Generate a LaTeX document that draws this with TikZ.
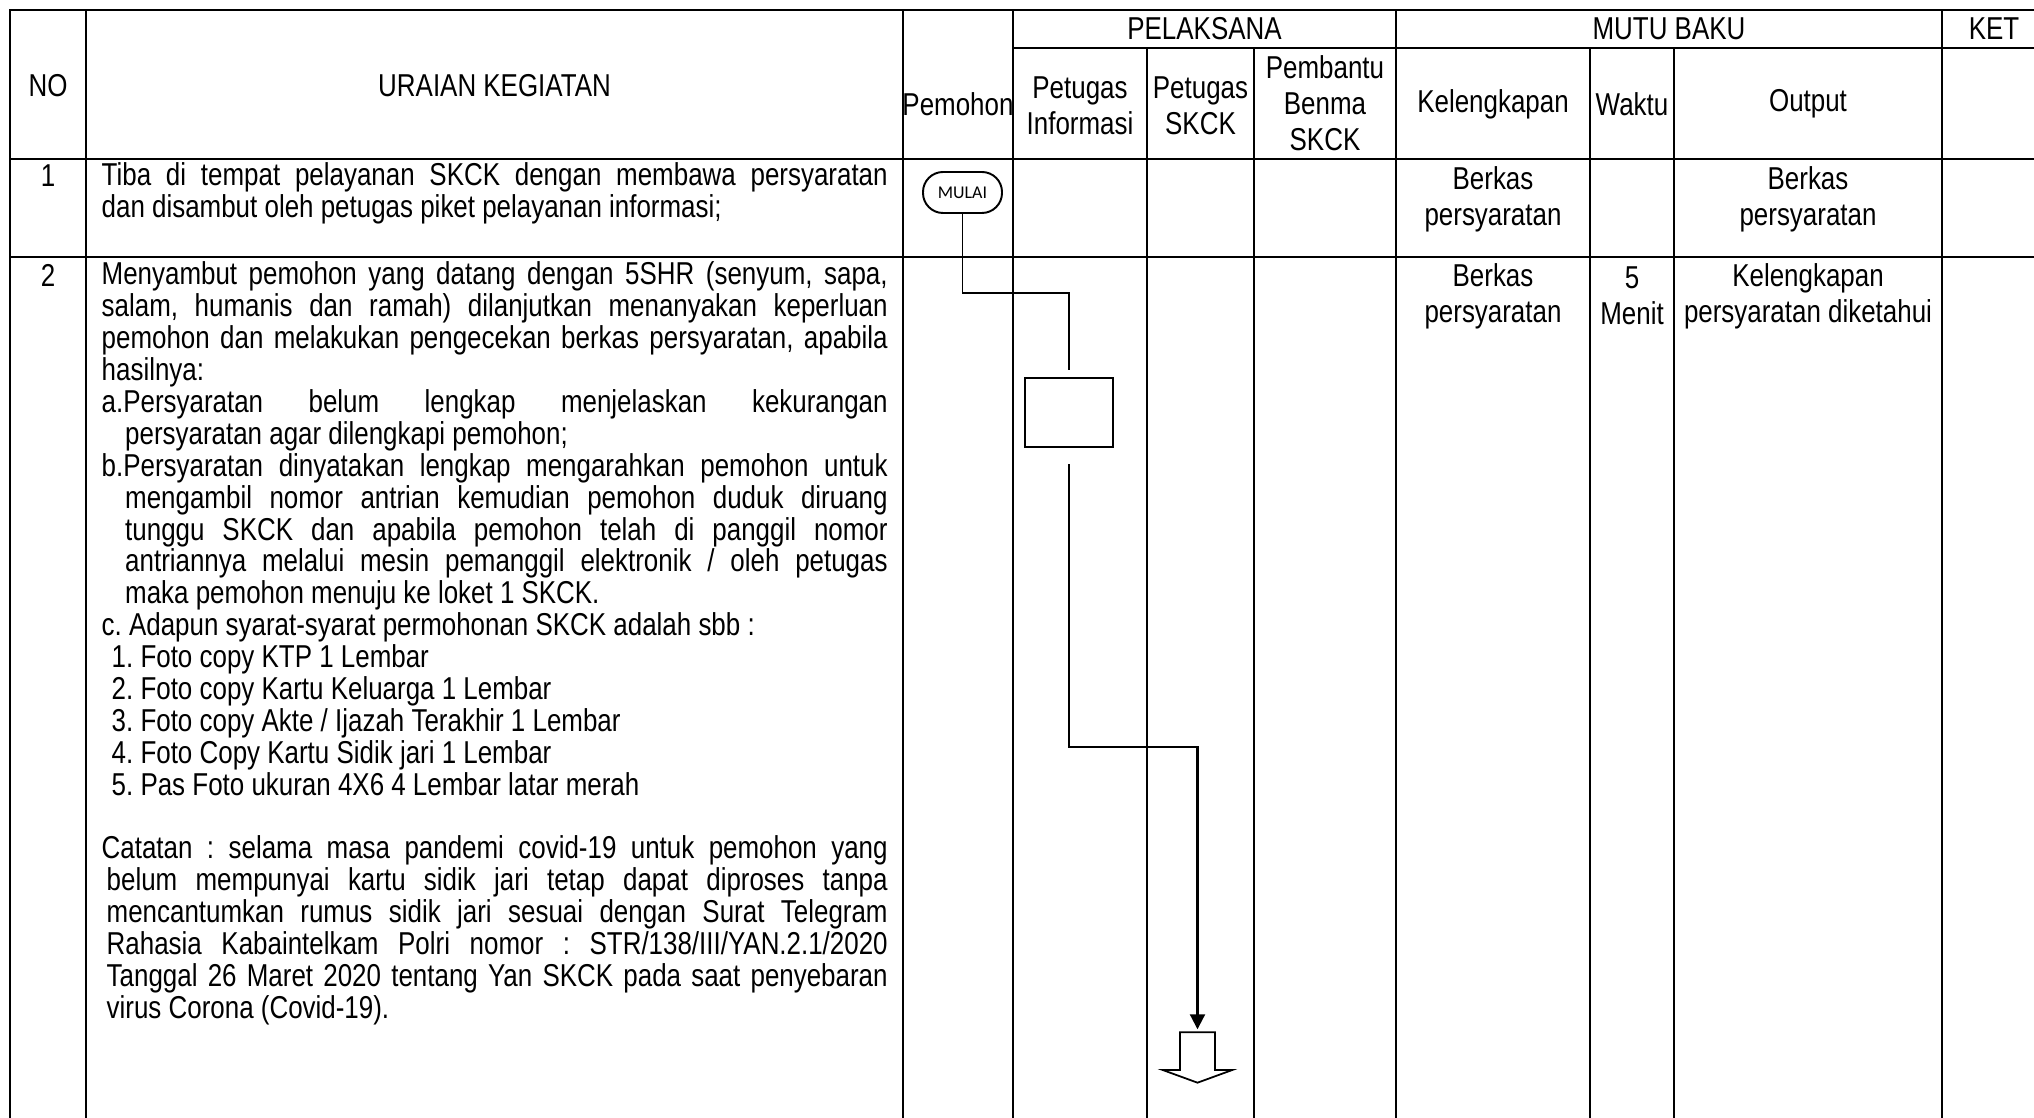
\documentclass[tikz,border=0pt]{standalone}
\usepackage{fontspec}
\setmainfont{Liberation Sans}[FakeStretch=0.82]
\newfontfamily\mulaifont{Carlito}
\usetikzlibrary{arrows.meta}

\newcommand{\bodyfont}{\fontsize{9}{9.07}\selectfont}
\newcommand{\textcell}[1]{\begin{minipage}[t]{7.86cm}\bodyfont
  \parindent=0pt \parskip=0pt \frenchspacing
  \hyphenpenalty=10000 \exhyphenpenalty=10000 \tolerance=10000
  #1\end{minipage}}

\begin{document}
\begin{tikzpicture}[
  tabline/.style={line width=0.65pt, line cap=rect},
  conn/.style={line width=0.45pt},
  cellc/.style={align=center, inner sep=0pt, font=\fontsize{9}{10.3}\selectfont},
  ]
  \useasboundingbox (0,0) rectangle (20.34,-11.18);

  % table
  \draw[tabline] (0.10,-0.10) -- (20.34,-0.10);
  \draw[tabline] (10.13,-0.477) -- (20.34,-0.477);
  \draw[tabline] (0.10,-1.59) -- (20.34,-1.59);
  \draw[tabline] (0.10,-2.567) -- (20.34,-2.567);
  \foreach \x in {0.10,0.86,9.03,10.13,13.96,19.42}
    \draw[tabline] (\x,-0.10) -- (\x,-11.18);
  \foreach \x in {11.47,12.54,15.90,16.74}
    \draw[tabline] (\x,-0.477) -- (\x,-11.18);

  % header
  \node[cellc] (noh) at (0.48,-0.856) {NO};
  \node[cellc] (uraianh) at (4.945,-0.856) {URAIAN KEGIATAN};
  \node[cellc] (pemohonh) at (9.58,-1.04) {Pemohon};
  \node[cellc] (pelaksanah) at (12.045,-0.29) {PELAKSANA};
  \node[cellc] (mutuh) at (16.69,-0.29) {MUTU BAKU};
  \node[cellc] (keth) at (19.94,-0.29) {KET};
  \node[cellc] (infoh) at (10.80,-1.06) {Petugas\\Informasi};
  \node[cellc] (skckh) at (12.005,-1.06) {Petugas\\SKCK};
  \node[cellc] (benmah) at (13.25,-1.03) {Pembantu\\Benma\\SKCK};
  \node[cellc] (kelh) at (14.93,-1.04) {Kelengkapan};
  \node[cellc] (waktuh) at (16.32,-1.04) {Waktu};
  \node[cellc] (outh) at (18.08,-1.04) {Output};

  % row 1
  \node[cellc] (no1) at (0.48,-1.76) {1};
  \node[anchor=base west, inner sep=0pt] (txt1) at (1.01,-1.86) {\textcell{%
    Tiba di tempat pelayanan SKCK dengan membawa persyaratan\linebreak
    dan disambut oleh petugas piket pelayanan informasi;}};
  \node[cellc] (kel1) at (14.93,-1.99) {Berkas\\persyaratan};
  \node[cellc] (out1) at (18.08,-1.99) {Berkas\\persyaratan};

  % row 2
  \node[cellc] (no2) at (0.48,-2.75) {2};
  \node[anchor=base west, inner sep=0pt] (txt2) at (1.01,-2.85) {\textcell{%
    Menyambut pemohon yang datang dengan 5SHR (senyum, sapa,\linebreak
    salam, humanis dan ramah) dilanjutkan menanyakan keperluan\linebreak
    pemohon dan melakukan pengecekan berkas persyaratan, apabila\linebreak
    hasilnya:\par
    \hangindent=0.235cm \hangafter=1
    a.Persyaratan belum lengkap menjelaskan kekurangan\linebreak
    persyaratan agar dilengkapi pemohon;\par
    \hangindent=0.235cm \hangafter=1
    b.Persyaratan dinyatakan lengkap mengarahkan pemohon untuk\linebreak
    mengambil nomor antrian kemudian pemohon duduk diruang\linebreak
    tunggu SKCK dan apabila pemohon telah di panggil nomor\linebreak
    antriannya melalui mesin pemanggil elektronik / oleh petugas\linebreak
    maka pemohon menuju ke loket 1 SKCK.\par
    c. Adapun syarat-syarat permohonan SKCK adalah sbb :\par
    \hspace*{0.1cm}1. Foto copy KTP 1 Lembar\par
    \hspace*{0.1cm}2. Foto copy Kartu Keluarga 1 Lembar\par
    \hspace*{0.1cm}3. Foto copy Akte / Ijazah Terakhir 1 Lembar\par
    \hspace*{0.1cm}4. Foto Copy Kartu Sidik jari 1 Lembar\par
    \hspace*{0.1cm}5. Pas Foto ukuran 4X6 4 Lembar latar merah\par
    \mbox{}\par
    \hangindent=0.05cm \hangafter=1
    Catatan : selama masa pandemi covid-19 untuk pemohon yang\linebreak
    belum mempunyai kartu sidik jari tetap dapat diproses tanpa\linebreak
    mencantumkan rumus sidik jari sesuai dengan Surat Telegram\linebreak
    Rahasia Kabaintelkam Polri nomor : STR/138/III/YAN.2.1/2020\linebreak
    Tanggal 26 Maret 2020 tentang Yan SKCK pada saat penyebaran\linebreak
    virus Corona (Covid-19).}};
  \node[cellc] (kel2) at (14.93,-2.96) {Berkas\\persyaratan};
  \node[cellc] (waktu2) at (16.32,-2.96) {5\\Menit};
  \node[cellc] (out2) at (18.08,-2.96) {Kelengkapan\\persyaratan diketahui};

  % flow
  \node[draw, line width=0.55pt, rounded corners=0.2cm, minimum width=0.79cm,
    minimum height=0.41cm, inner sep=0pt,
    font=\mulaifont\fontsize{5.1}{6}\selectfont] (mulai) at (9.625,-1.925) {MULAI};
  \node[draw, line width=0.7pt, minimum width=0.88cm, minimum height=0.69cm,
    inner sep=0pt] (cek) at (10.69,-4.125) {};
  \coordinate (offpage) at (11.975,-10.323);

  \draw[conn] (mulai.south) -- ++(0,-0.79) -| ([yshift=0.07cm]cek.north);
  \draw[conn, line width=0.6pt, -{Triangle[width=1.5mm,length=1.5mm]}]
    ([yshift=-0.16cm]cek.south) -- ++(0,-2.83) -| ([yshift=0.03cm]offpage);
  \draw[line width=0.5pt, shift={(offpage)}] (-0.175,0) -- (0.175,0) -- (0.175,-0.377)
    -- (0.348,-0.377) -- (0,-0.504) -- (-0.348,-0.377) -- (-0.175,-0.377) -- cycle;
\end{tikzpicture}
\end{document}
